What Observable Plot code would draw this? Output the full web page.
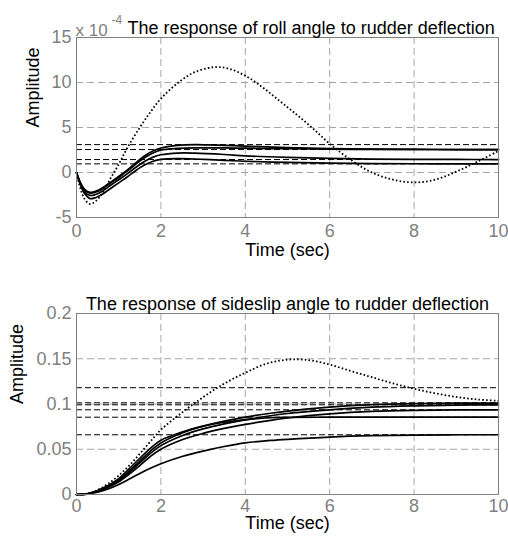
<!DOCTYPE html>
<html>
<head>
<meta charset="utf-8">
<script src="https://cdn.jsdelivr.net/npm/d3@7"></script>
<script src="https://cdn.jsdelivr.net/npm/@observablehq/plot@0.6"></script>
<style>
  html, body { margin: 0; padding: 0; background: white; }
  #chart { width: 508px; height: 542px; position: relative; }
  #chart svg { display: block; }
</style>
</head>
<body>
<div id="chart"></div>
<script>
// ---------- tick values ----------
const xTicks = [0, 2, 4, 6, 8, 10];
const rollTicks = [-5, 0, 5, 10, 15];          // ×10^-4
const slipTicks = [0, 0.05, 0.1, 0.15, 0.2];

// ---------- roll angle response (×10^-4) ----------
const tRoll = [0, 0.1, 0.2, 0.32, 0.45, 0.6, 0.8, 1.0, 1.2, 1.4, 1.6, 1.8, 2.0, 2.4, 2.8, 3.5, 4, 5, 6, 7, 8, 9, 10];
const roll1 = [0, -1.2, -1.9, -2.2, -2.1, -1.75, -1.1, -0.45, 0.25, 1.05, 1.8, 2.35, 2.72, 3.02, 3.1, 3.02, 2.93, 2.76, 2.65, 2.59, 2.56, 2.55, 2.55];
const roll2 = [0, -1.25, -2.0, -2.3, -2.2, -1.85, -1.2, -0.55, 0.15, 0.9, 1.6, 2.15, 2.5, 2.68, 2.74, 2.73, 2.7, 2.64, 2.6, 2.57, 2.56, 2.55, 2.55];
const roll3 = [0, -1.35, -2.2, -2.55, -2.45, -2.1, -1.45, -0.8, -0.15, 0.55, 1.2, 1.68, 1.97, 2.16, 2.15, 2.0, 1.85, 1.68, 1.56, 1.49, 1.46, 1.45, 1.44];
const roll4 = [0, -1.45, -2.4, -2.9, -2.8, -2.45, -1.8, -1.15, -0.5, 0.2, 0.8, 1.22, 1.46, 1.55, 1.5, 1.35, 1.25, 1.12, 1.04, 0.99, 0.97, 0.96, 0.96];
const tRollDot = [0, 0.1, 0.2, 0.32, 0.45, 0.6, 0.8, 1.0, 1.2, 1.5, 1.75, 2.0, 2.4, 2.8, 3.25, 3.6, 4.0, 4.4, 4.8, 5.2, 5.6, 6.0, 6.5, 7.0, 7.5, 8.0, 8.5, 9.0, 9.5, 10];
const rollDot = [0, -1.9, -3.0, -3.5, -3.2, -2.4, -0.7, 0.9, 2.7, 5.0, 6.7, 8.2, 9.95, 11.15, 11.7, 11.55, 10.75, 9.5, 8.0, 6.5, 4.9, 3.2, 1.4, 0.0, -0.8, -1.1, -0.8, 0.1, 1.2, 2.4];
const rollSteady = [3.1, 2.55, 1.44, 0.96];

// ---------- sideslip angle response ----------
const tSlip = [0, 0.25, 0.5, 0.75, 1, 1.25, 1.5, 1.75, 2, 2.5, 3, 3.5, 4, 4.6, 5, 6, 7, 8, 9, 10];
const slip1 = [0, 0.0006, 0.004, 0.009, 0.016, 0.026, 0.037, 0.048, 0.057, 0.068, 0.0755, 0.081, 0.0855, 0.0898, 0.0922, 0.0965, 0.0992, 0.1005, 0.101, 0.101];
const slip2 = [0, 0.0005, 0.0037, 0.0085, 0.015, 0.0245, 0.035, 0.0455, 0.054, 0.065, 0.0725, 0.078, 0.0825, 0.087, 0.0895, 0.0935, 0.0965, 0.098, 0.0988, 0.099];
const slip3 = [0, 0.0005, 0.0033, 0.0078, 0.014, 0.0225, 0.032, 0.042, 0.050, 0.0605, 0.0675, 0.073, 0.0775, 0.082, 0.0845, 0.089, 0.0918, 0.093, 0.0934, 0.0936];
const slip4 = [0, 0.0007, 0.0045, 0.010, 0.0175, 0.0285, 0.040, 0.051, 0.060, 0.069, 0.0755, 0.0798, 0.0828, 0.0848, 0.0852, 0.0854, 0.0854, 0.0854, 0.0854, 0.0854];
const slip5 = [0, 0.0005, 0.0025, 0.006, 0.011, 0.017, 0.0233, 0.029, 0.034, 0.042, 0.048, 0.053, 0.057, 0.0597, 0.061, 0.0635, 0.065, 0.0657, 0.066, 0.066];
const tSlipDot = [0, 0.25, 0.5, 0.75, 1, 1.25, 1.5, 1.75, 2, 2.5, 3, 3.5, 4, 4.5, 5, 5.5, 6, 6.5, 7, 7.5, 8, 8.5, 9, 9.5, 10];
const slipDot = [0, 0.0008, 0.005, 0.012, 0.021, 0.032, 0.045, 0.0585, 0.0715, 0.0905, 0.1075, 0.1225, 0.1345, 0.1445, 0.149, 0.1485, 0.1435, 0.1365, 0.1296, 0.1228, 0.1168, 0.1118, 0.1078, 0.105, 0.1035];
const slipSteady = [0.118, 0.1013, 0.0991, 0.0936, 0.0854, 0.066];

// ---------- texts ----------
const rollTitle = "The response of roll angle to rudder deflection";
const slipTitle = "The response of sideslip angle to rudder deflection";
const xLabel = "Time (sec)";
const yLabel = "Amplitude";
const expBase = "x 10";
const expPower = "-4";

function toRows(t, seriesList) {
  return seriesList.flatMap((vals, k) => vals.map((v, i) => ({t: t[i], v, s: k})));
}

const FONT = "Liberation Sans, Arial, Helvetica, sans-serif";
const GRID = "#a6a6a6";
const AXIS = "#808080";
const FS = 18;

function panel({height, marginTop, marginBottom, yDomain, yTicks, solids, dotted, steady, extraText, yLabelDx, xLabelDy, xPad, tickFormat}) {
  return Plot.plot({
    width: 508,
    height,
    marginLeft: 76,
    marginRight: 10,
    marginTop,
    marginBottom,
    style: {fontFamily: FONT, fontSize: FS + "px", color: AXIS, background: "white", overflow: "visible"},
    x: {domain: [0, 10], ticks: xTicks, tickSize: 0, tickPadding: xPad, label: null},
    y: {domain: yDomain, ticks: yTicks, tickSize: 0, tickPadding: 5, label: null, tickFormat},
    marks: [
      Plot.ruleX(xTicks.slice(1, -1), {stroke: GRID, strokeWidth: 1, strokeDasharray: "7,4"}),
      Plot.ruleY(yTicks.slice(1, -1), {stroke: GRID, strokeWidth: 1, strokeDasharray: "7,4"}),
      Plot.ruleY(steady, {stroke: "black", strokeWidth: 1, strokeDasharray: "6,3"}),
      Plot.line(solids, {x: "t", y: "v", z: "s", stroke: "black", strokeWidth: 1.7, curve: "catmull-rom"}),
      Plot.line(dotted, {x: "t", y: "v", stroke: "black", strokeWidth: 1.8, strokeLinecap: "butt", strokeDasharray: "1.6,2.2", curve: "catmull-rom"}),
      Plot.frame({stroke: AXIS, strokeWidth: 1}),
      Plot.text([yLabel], {frameAnchor: "left", rotate: -90, dx: yLabelDx, fill: "black", fontSize: FS}),
      Plot.text([xLabel], {frameAnchor: "bottom", dy: xLabelDy, fill: "black", fontSize: FS}),
      ...extraText
    ]
  });
}

const rollPlot = panel({
  height: 270, marginTop: 37, marginBottom: 53,
  yDomain: [-5, 15], yTicks: rollTicks,
  solids: toRows(tRoll, [roll1, roll2, roll3, roll4]),
  dotted: toRows(tRollDot, [rollDot]),
  steady: rollSteady,
  yLabelDx: -43, xLabelDy: 38, xPad: 7,
  tickFormat: d => String(d),
  extraText: [
    Plot.text([expBase], {frameAnchor: "top-left", textAnchor: "start", dx: -1, dy: -14, fill: AXIS, fontSize: 17}),
    Plot.text([expPower], {frameAnchor: "top-left", textAnchor: "start", dx: 35, dy: -22, fill: AXIS, fontSize: 12}),
    Plot.text([rollTitle], {frameAnchor: "top-left", textAnchor: "start", dx: 51, dy: -16, fill: "black", fontSize: FS})
  ]
});

const slipPlot = panel({
  height: 272, marginTop: 43, marginBottom: 48,
  yDomain: [0, 0.2], yTicks: slipTicks,
  solids: toRows(tSlip, [slip1, slip2, slip3, slip4, slip5]),
  dotted: toRows(tSlipDot, [slipDot]),
  steady: slipSteady,
  yLabelDx: -59, xLabelDy: 34, xPad: 5,
  tickFormat: d => String(+d.toFixed(2)),
  extraText: [
    Plot.text([slipTitle], {frameAnchor: "top", dy: -16, fill: "black", fontSize: FS})
  ]
});

const chart = document.getElementById("chart");
chart.appendChild(rollPlot);
chart.appendChild(slipPlot);
</script>
</body>
</html>
